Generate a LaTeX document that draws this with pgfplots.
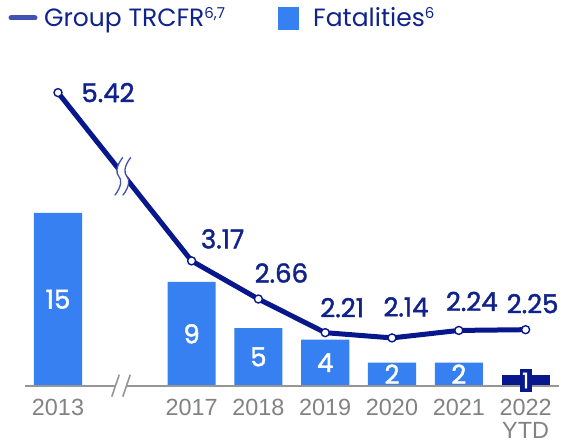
\documentclass[border=0pt]{standalone}
\usepackage{fontspec}
\setmainfont{Poppins}
\newfontfamily\labf[BoldFont={Poppins}, BoldFeatures={FakeBold=1.6}]{Poppins}
\newfontfamily\arialf{Liberation Sans}
\usepackage{pgfplots}
\pgfplotsset{compat=1.18}
\definecolor{barblue}{RGB}{55,128,242}
\definecolor{navy}{RGB}{8,24,140}
\definecolor{labnavy}{RGB}{16,34,140}
\definecolor{legline}{RGB}{66,82,178}
\definecolor{tickgray}{RGB}{130,130,130}
\definecolor{basegray}{RGB}{150,150,150}
\newcommand{\lab}{\labf\bfseries\fontsize{26}{30}\selectfont}
\newcommand{\legsup}[1]{\raisebox{8.5pt}{\fontsize{15}{15}\selectfont #1}}
\tikzset{blab/.style={text=white, font=\lab, inner sep=0pt},
  llab/.style={text=labnavy, font=\lab, inner sep=0pt}}
\begin{document}
\begin{tikzpicture}
\path[use as bounding box] (0,0) rectangle (564pt,444pt);
\pgfplotsset{common/.style={
  scale only axis, width=534.4pt, height=325.7pt,
  at={(24.6pt,58.3pt)}, anchor=south west,
  xmin=-0.5, xmax=7.5, axis line style={draw=none},
  ytick=\empty, major tick length=0pt, clip=false}}
% ---------------- bars ----------------
\begin{axis}[common, ymin=0, ymax=28.25,
  xtick={0,2,3,4,5,6,7},
  xticklabels={2013,2017,2018,2019,2020,2021,{2022\\[-2pt]YTD}},
  xticklabel style={font=\arialf\fontsize{23.4}{25}\selectfont, text=tickgray,
    anchor=north, inner sep=0pt, yshift=-13pt, align=center}]
\addplot[ybar, bar width=0.72, fill=barblue, draw=none] coordinates
  {(0,15) (2,9) (3,5) (4,4) (5,2) (6,2)};
\addplot[ybar, bar width=0.72, fill=navy, draw=none] coordinates {(7,0.93)};
\draw[basegray, line width=2pt] (axis cs:-0.5,0) -- (axis cs:7.5,0);
% axis break
\fill[white] ([xshift=-5pt,yshift=-4pt]axis cs:0.943,0) rectangle ([xshift=5pt,yshift=4pt]axis cs:0.943,0);
\draw[basegray, line width=1.6pt] ([xshift=-9.25pt,yshift=-11pt]axis cs:0.943,0) -- ([xshift=-1.75pt,yshift=11pt]axis cs:0.943,0);
\draw[basegray, line width=1.6pt] ([xshift=1.75pt,yshift=-11pt]axis cs:0.943,0) -- ([xshift=9.25pt,yshift=11pt]axis cs:0.943,0);
% bar labels
\node[blab] at (axis cs:0,7.5) {15};
\node[blab] at (axis cs:2,4.5) {9};
\node[blab] at (axis cs:3,2.5) {5};
\node[blab] at (axis cs:4,2) {4};
\node[blab] at (axis cs:5,1) {2};
\node[blab] at (axis cs:6,1) {2};
\node[fill=navy, text=white, inner sep=0pt, minimum width=12pt, minimum height=23pt,
  font=\labf\bfseries\fontsize{21}{24}\selectfont] at (axis cs:7,0.45) {1};
\end{axis}
% ---------------- line ----------------
\begin{axis}[common, ymin=1.501, ymax=5.856, xtick=\empty]
\addplot[navy, line width=5pt, mark=*, mark size=4pt,
  mark options={fill=white, draw=navy, line width=1.4pt}] coordinates
  {(0,5.42) (2,3.17) (3,2.66) (4,2.21) (5,2.14) (6,2.24) (7,2.25)};
% break on line
\begin{scope}[shift={(axis cs:0.97,4.30)}]
\fill[white] (0pt,19pt) .. controls (-7pt,10pt) and (-7pt,3pt) .. (-4pt,0pt) .. controls (-1pt,-3pt) and (-1pt,-10pt) .. (-8pt,-19pt)
  -- (0pt,-19pt) .. controls (7pt,-10pt) and (7pt,-3pt) .. (4pt,0pt) .. controls (1pt,3pt) and (1pt,10pt) .. (8pt,19pt) -- cycle;
\draw[legline, line width=1.3pt] (0pt,19pt) .. controls (-7pt,10pt) and (-7pt,3pt) .. (-4pt,0pt) .. controls (-1pt,-3pt) and (-1pt,-10pt) .. (-8pt,-19pt);
\draw[legline, line width=1.3pt] (8pt,19pt) .. controls (1pt,10pt) and (1pt,3pt) .. (4pt,0pt) .. controls (7pt,-3pt) and (7pt,-10pt) .. (0pt,-19pt);
\end{scope}
\node[llab, xshift=50pt, yshift=0pt] at (axis cs:0,5.42) {5.42};
\node[llab, xshift=31pt, yshift=22pt] at (axis cs:2,3.17) {3.17};
\node[llab, xshift=23pt, yshift=26pt] at (axis cs:3,2.66) {2.66};
\node[llab, xshift=17pt, yshift=25pt] at (axis cs:4,2.21) {2.21};
\node[llab, xshift=14pt, yshift=31pt] at (axis cs:5,2.14) {2.14};
\node[llab, xshift=13pt, yshift=29pt] at (axis cs:6,2.24) {2.24};
\node[llab, xshift=7pt, yshift=26pt] at (axis cs:7,2.25) {2.25};
\end{axis}
% ---------------- legend ----------------
\draw[legline, line width=5pt, line cap=round] (11pt,426pt) -- (35pt,426pt);
\node[anchor=base west, inner sep=0pt, text=labnavy, font=\fontsize{25}{30}\selectfont] at (44pt,417pt) {Group TRCFR\legsup{6,7}};
\fill[barblue] (278pt,414pt) rectangle (299pt,437pt);
\node[anchor=base west, inner sep=0pt, text=labnavy, font=\fontsize{25}{30}\selectfont] at (313pt,417pt) {Fatalities\legsup{6}};
\end{tikzpicture}
\end{document}
